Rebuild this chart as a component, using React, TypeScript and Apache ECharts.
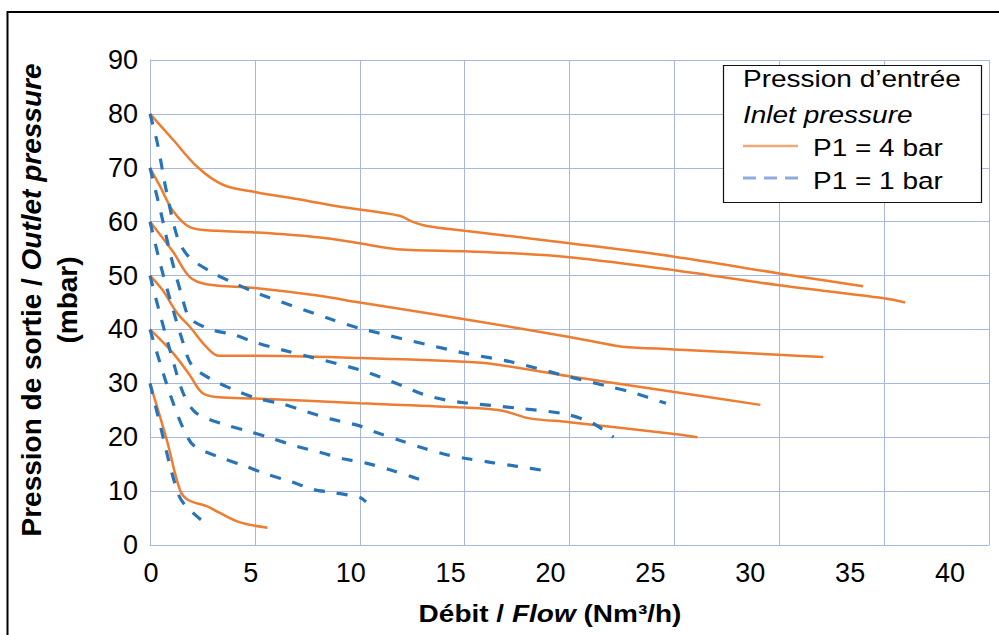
import React, { useEffect, useRef } from "react";
import * as echarts from "echarts";

// ---- Data (flow in Nm3/h, outlet pressure in mbar) ----
// P1 = 4 bar curves (solid orange)
const p4_80 = [[0, 80], [1.1, 75.2], [2.3, 70], [3.5, 66.8], [5, 65.5], [7, 64.2], [9, 62.8], [11.9, 61.1], [12.5, 60], [13.2, 59.2], [15, 58.3], [17, 57.4], [20, 56], [25, 53.5], [30, 50.4], [34, 48]];
const p4_70 = [[0, 70], [0.5, 66.4], [1.1, 62], [1.9, 59], [3.2, 58.3], [5, 58], [8, 57.1], [10, 56], [11.8, 54.9], [15, 54.5], [17, 54.2], [20, 53.4], [25, 51], [30, 48.2], [35, 45.8], [36, 45]];
const p4_60 = [[0, 60], [1.1, 54.4], [1.9, 49.7], [2.7, 48.4], [5, 47.7], [8, 46.3], [10, 45], [15, 41.9], [20, 38.6], [21.5, 37.5], [22.5, 36.8], [25, 36.3], [30, 35.3], [32.1, 34.9]];
const p4_50 = [[0, 50], [0.6, 47.3], [1.3, 43], [1.9, 40.5], [2.7, 36.7], [3.3, 35.1], [5, 35.1], [10, 34.7], [15, 34], [16.5, 33.5], [20, 31.3], [25, 28.4], [29.1, 26]];
const p4_40 = [[0, 40], [1.1, 35.6], [1.9, 31.5], [2.5, 28.2], [3.3, 27.4], [5, 27.2], [10, 26.3], [15, 25.5], [16.8, 24.9], [18.1, 23.5], [20, 22.8], [25, 20.6], [26.1, 20]];
const p4_30 = [[0, 30], [0.8, 19.5], [1.43, 10.2], [1.8, 8.4], [2.7, 7.2], [3.3, 6], [4.3, 4.2], [5.6, 3.2]];

// P1 = 1 bar curves (dashed blue)
const p1_80 = [[0, 80], [0.35, 74.6], [0.8, 65.3], [1.35, 56.6], [1.9, 53.3], [3, 50.5], [3.9, 48.8], [5.2, 46.6], [8.7, 41.8], [10, 40.2], [15, 35.6], [17.2, 34], [20, 31.2], [21.9, 29.4], [23, 28.3], [24.6, 26.3]];
const p1_70 = [[0, 70], [0.5, 62], [1.0, 53.5], [1.5, 46.5], [1.9, 42.1], [2.9, 40], [4, 39], [5.1, 37.5], [6.3, 36.2], [10, 32.5], [12, 29.6], [13, 28], [14.1, 26.9], [15, 26.4], [17.5, 25.4], [19.8, 24.3], [21.1, 22.6], [22.1, 20]];
const p1_60 = [[0, 60], [0.5, 52], [1.0, 45], [1.5, 38.5], [2.0, 33.3], [2.9, 30.8], [4, 28.8], [5.1, 27.2], [6.3, 26.2], [7.5, 24.7], [8.6, 23.4], [10, 22.1], [10.7, 21], [12, 19.3], [13.1, 17.9], [14.1, 16.8], [15, 16.1], [16.3, 15.3], [17.5, 14.6], [19, 13.7]];
const p1_50 = [[0, 50], [0.5, 42.5], [1.0, 35.5], [1.6, 28], [2.2, 24.5], [3.6, 22.3], [4.7, 21.1], [5.8, 19.8], [7, 18.3], [8.1, 17.2], [9.2, 16], [10.3, 15.2], [11.4, 14], [12.6, 12.5], [12.9, 12.1]];
const p1_40 = [[0, 40], [0.5, 33.5], [1.0, 27.5], [1.6, 21.5], [2.1, 18.4], [3.4, 16.2], [4.5, 14.7], [5.6, 13.1], [6.7, 11.8], [7.8, 10.3], [8.8, 9.7], [10, 8.8], [10.3, 8]];
const p1_30 = [[0, 30], [0.5, 22], [1.0, 14], [1.4, 9], [1.7, 7.3], [2.4, 4.8], [2.85, 3.7]];

const curves4 = [p4_80, p4_70, p4_60, p4_50, p4_40, p4_30];
const curves1 = [p1_80, p1_70, p1_60, p1_50, p1_40, p1_30];

const legendTitle = ["Pression d\u2019entrée", "Inlet pressure"];
const legendItems = ["P1 = 4 bar", "P1 = 1 bar"];

const FONT = "'Liberation Sans', Arial, Helvetica, sans-serif";
const GRID = "#A7B7E1";
const ORANGE = "#ED7D31";
const BLUE = "#2874B8";

export default function App() {
  const ref = useRef<HTMLDivElement>(null);
  useEffect(() => {
    if (!ref.current) return;
    const chart = echarts.init(ref.current, null, { renderer: "svg" });
    const series: any[] = [];
    curves4.forEach((d, i) => {
      series.push({
        name: legendItems[0] + " #" + i,
        type: "line",
        xAxisIndex: 0,
        yAxisIndex: 0,
        data: d,
        showSymbol: false,
        smooth: 0.35,
        lineStyle: { color: ORANGE, width: 2.5 },
        z: 3,
      });
    });
    curves1.forEach((d, i) => {
      series.push({
        name: legendItems[1] + " #" + i,
        type: "line",
        xAxisIndex: 0,
        yAxisIndex: 0,
        data: d,
        showSymbol: false,
        smooth: 0.3,
        lineStyle: { color: BLUE, width: 3.2, type: [11, 12] },
        z: 4,
      });
    });

    const txt = (text: string, x: number, y: number, extra: any = {}) => ({
      type: "text",
      x,
      y,
      scaleY: 0.88,
      silent: true,
      style: {
        text,
        x: 0,
        y: 0,
        fontSize: 28,
        fontFamily: FONT,
        fill: "#000",
        verticalAlign: "middle",
        align: "left",
        ...extra,
      },
    });

    const option: any = {
      animation: false,
      backgroundColor: "#ffffff",
      grid: [
        { left: 150, top: 60, width: 839, height: 485 },
        { left: 151, top: 60, width: 799, height: 485 },
      ],
      xAxis: [
        {
          gridIndex: 0,
          type: "value",
          min: 0,
          max: 40,
          interval: 5,
          axisLabel: { show: false },
          axisTick: { show: false },
          axisLine: { show: true, lineStyle: { color: GRID, width: 1 } },
          splitLine: { show: true, lineStyle: { color: GRID, width: 1 } },
        },
        {
          gridIndex: 1,
          type: "value",
          min: 0,
          max: 40,
          interval: 5,
          axisLine: { show: false },
          axisTick: { show: false },
          splitLine: { show: false },
          axisLabel: { fontSize: 27, color: "#000", margin: 14, fontFamily: FONT },
        },
      ],
      yAxis: [
        {
          gridIndex: 0,
          type: "value",
          min: 0,
          max: 90,
          interval: 10,
          axisLine: { show: true, lineStyle: { color: GRID, width: 1 } },
          axisTick: { show: false },
          splitLine: { show: true, lineStyle: { color: GRID, width: 1 } },
          axisLabel: { fontSize: 27, color: "#000", margin: 12, fontFamily: FONT },
        },
        { gridIndex: 1, type: "value", min: 0, max: 90, show: false },
      ],
      series,
      graphic: [
        {
          type: "rect",
          silent: true,
          shape: { x: 7.5, y: 12, width: 1100, height: 700 },
          style: { fill: "none", stroke: "#000", lineWidth: 2 },
        },
        // Legend box
        {
          type: "rect",
          silent: true,
          z: 10,
          shape: { x: 723.5, y: 65.5, width: 258, height: 137 },
          style: { fill: "#fff", stroke: "#111", lineWidth: 1.2 },
        },
        { ...txt(legendTitle[0], 743, 79), z: 11 },
        { ...txt(legendTitle[1], 743, 115, { fontStyle: "italic" }), z: 11 },
        {
          type: "line",
          silent: true,
          z: 11,
          shape: { x1: 743, y1: 146, x2: 798, y2: 146 },
          style: { stroke: "#F2A97A", lineWidth: 2.6 },
        },
        { ...txt(legendItems[0], 813, 148), z: 11 },
        {
          type: "line",
          silent: true,
          z: 11,
          shape: { x1: 743, y1: 178, x2: 798, y2: 178 },
          style: { stroke: "#8FAADC", lineWidth: 2.8, lineDash: [13, 8] },
        },
        { ...txt(legendItems[1], 813, 181), z: 11 },
        // X axis title
        {
          type: "text",
          silent: true,
          x: 550,
          y: 614,
          scaleY: 0.88,
          style: {
            text: "{b|Débit / }{bi|Flow}{b| (Nm\u00B3/h)}",
            x: 0,
            y: 0,
            align: "center",
            verticalAlign: "middle",
            rich: {
              b: { fontSize: 28, fontWeight: "bold", fontFamily: FONT, fill: "#000" },
              bi: { fontSize: 28, fontWeight: "bold", fontStyle: "italic", fontFamily: FONT, fill: "#000" },
            },
          },
        },
        // Y axis title
        {
          type: "text",
          silent: true,
          x: 49,
          y: 300,
          rotation: Math.PI / 2,
          style: {
            text: "{b|Pression de sortie / }{bi|Outlet pressure}\n{b|(mbar)}",
            x: 0,
            y: 0,
            align: "center",
            verticalAlign: "middle",
            rich: {
              b: { fontSize: 28, fontWeight: "bold", fontFamily: FONT, fill: "#000", lineHeight: 36 },
              bi: { fontSize: 28, fontWeight: "bold", fontStyle: "italic", fontFamily: FONT, fill: "#000", lineHeight: 36 },
            },
          },
        },
      ],
    };
    chart.setOption(option);
    return () => chart.dispose();
  }, []);
  return (
    <div
      ref={ref}
      style={{ position: "fixed", left: 0, top: 0, width: 999, height: 635, background: "#fff" }}
    />
  );
}
